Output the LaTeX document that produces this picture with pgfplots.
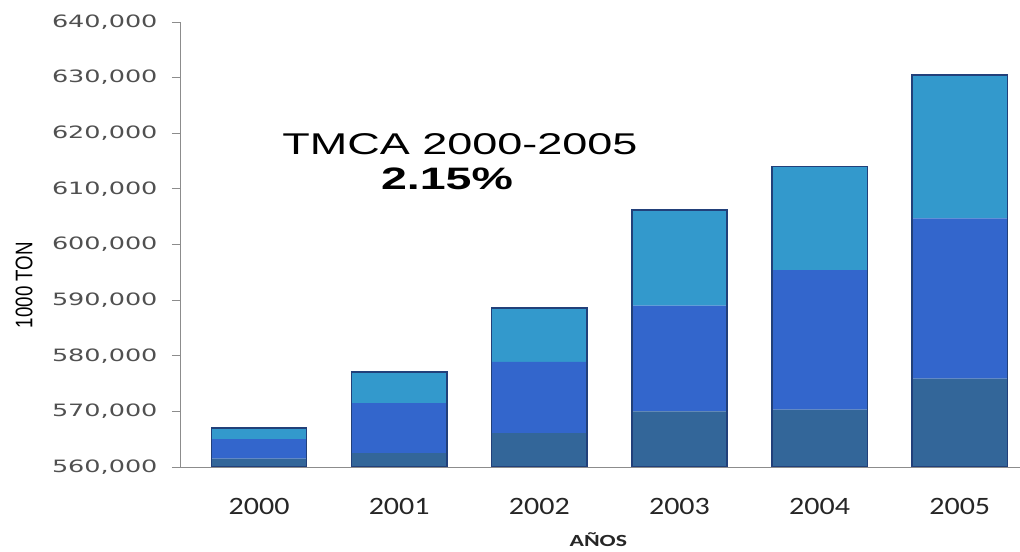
\documentclass[border=0pt]{standalone}
\usepackage{fontspec}
\usepackage{pgfplots}
\pgfplotsset{compat=1.18}
\setmainfont{Liberation Sans}
\newfontfamily\yfont[FakeStretch=1.5]{DejaVu Sans}
\newfontfamily\xfont[FakeStretch=1.2]{Carlito}
\newfontfamily\labfont[FakeStretch=1.4]{Carlito}
\newfontfamily\narrowfont[FakeStretch=0.78]{Liberation Sans}
\newfontfamily\titlefont[FakeStretch=1.5]{Liberation Sans}
\definecolor{darkseg}{HTML}{336699}
\definecolor{midseg}{HTML}{3366CC}
\definecolor{lightseg}{HTML}{3399CC}
\definecolor{edge}{HTML}{22407A}
\definecolor{axisgray}{HTML}{8C8C8C}
\definecolor{labgray}{HTML}{505050}

\begin{document}
\begin{tikzpicture}
\useasboundingbox (0,0) rectangle (1020bp,552bp);
% common layout for both layers
\pgfplotsset{base/.style={
    scale only axis, width=840bp, height=445bp,
    at={(180bp,85bp)}, anchor=south west,
    xmin=-0.564, xmax=5.43, ymin=560000, ymax=640000,
    bar width=0.68,
    axis x line=bottom, axis y line=left, axis line style={-,axisgray,line width=1bp},
  }}
 \begin{axis}[base, ybar stacked,
              xtick={0,...,5},
              xticklabels={2000,2001,2002,2003,2004,2005},
              major x tick style={draw=none},
              extra x ticks={0.5,1.5,2.5,3.5,4.5},
              extra x tick labels={},
              extra x tick style={tick style={axisgray,line width=0.8bp}, major tick length=6bp, tick align=outside},
              ytick distance=10000,
              scaled y ticks=false,
              tick align=outside,
              major tick length=8bp,
              ytick style={axisgray,line width=0.8bp},
              /pgf/number format/.cd, fixed, 1000 sep={,}, assume math mode=true,
              /pgfplots/.cd,
              yticklabel style={font=\yfont\fontsize{17bp}{20bp}\selectfont, text=labgray, xshift=-11bp},
              xticklabel style={font=\xfont\fontsize{25bp}{28bp}\selectfont, text=black!85, yshift=-20bp},
              xlabel={\labfont\fontsize{17bp}{20bp}\selectfont\bfseries AÑOS},
              xlabel style={at={(axis description cs:0.498,0)}, anchor=south, yshift=-83bp, text=black!85},
              ]
 \addplot[fill=darkseg, draw=none] coordinates {(0,561500)(1,562500)(2,566100)(3,570000)(4,570300)(5,575900)};
 \addplot[fill=midseg, draw=none] coordinates {(0,3500)(1,9000)(2,12800)(3,19000)(4,25100)(5,28800)};
 \addplot[fill=lightseg, draw=none] coordinates {(0,2000)(1,5600)(2,9700)(3,17200)(4,18600)(5,25800)};
 \end{axis}
 % outline layer with the bar totals
 \begin{axis}[base, ybar, hide axis, clip=true]
 \addplot[fill=none, draw=edge, line width=1.5bp] coordinates {(0,567000)(1,577100)(2,588600)(3,606200)(4,614000)(5,630500)};
 \end{axis}
 \node[rotate=90, font=\narrowfont\fontsize{24bp}{26bp}\selectfont, text=black] at (24bp,267bp) {1000 TON};
 \node[font=\titlefont\fontsize{30bp}{32bp}\selectfont] at (460bp,408bp) {TMCA 2000-2005};
 \node[font=\titlefont\fontsize{31bp}{33bp}\selectfont\bfseries] at (447bp,373bp) {2.15\%};
\end{tikzpicture}
\end{document}
